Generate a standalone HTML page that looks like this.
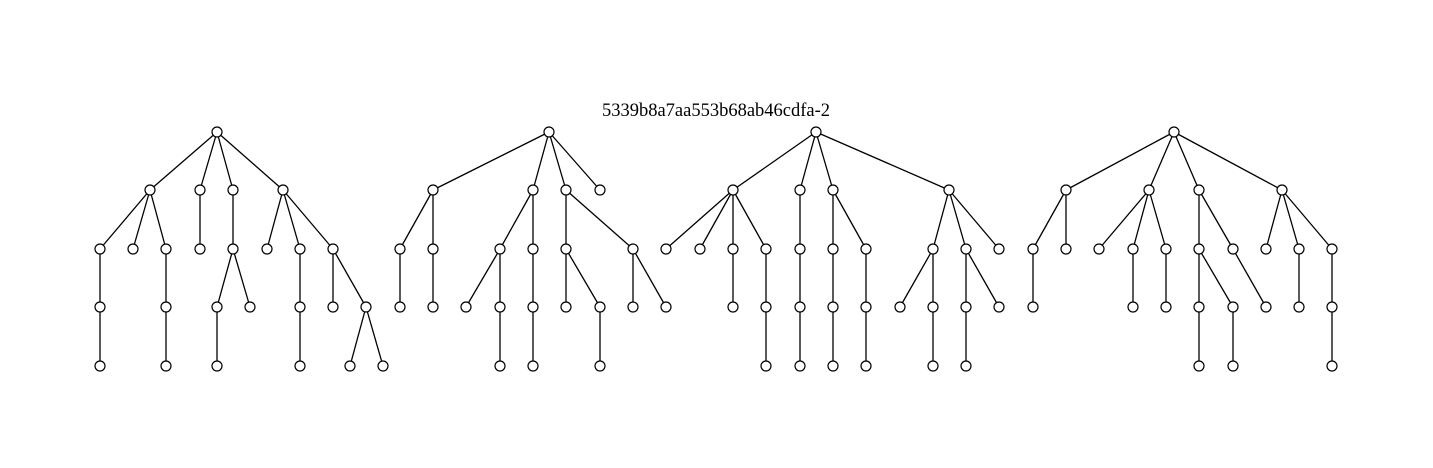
<!DOCTYPE html>
<html><head><meta charset="utf-8"><style>
html,body{margin:0;padding:0;background:#fff;}
svg{display:block}
circle{r:5px}
</style></head><body>
<svg width="1433" height="468" xmlns="http://www.w3.org/2000/svg">
<rect width="1433" height="468" fill="#fff"/>
<text x="716" y="116" text-anchor="middle" font-family="Liberation Serif, serif" font-size="18.5" fill="#000">5339b8a7aa553b68ab46cdfa-2</text>
<g stroke="#000" stroke-width="1.3" fill="none">
<line x1="217" y1="132" x2="150" y2="190"/><line x1="217" y1="132" x2="200" y2="190"/><line x1="217" y1="132" x2="233" y2="190"/><line x1="217" y1="132" x2="283" y2="190"/>
<line x1="150" y1="190" x2="100" y2="249"/><line x1="150" y1="190" x2="133" y2="249"/><line x1="150" y1="190" x2="166" y2="249"/>
<line x1="100" y1="249" x2="100" y2="366"/><line x1="166" y1="249" x2="166" y2="366"/>
<line x1="200" y1="190" x2="200" y2="249"/>
<line x1="233" y1="190" x2="233" y2="249"/><line x1="233" y1="249" x2="217" y2="307"/><line x1="233" y1="249" x2="250" y2="307"/><line x1="217" y1="307" x2="217" y2="366"/>
<line x1="283" y1="190" x2="267" y2="249"/><line x1="283" y1="190" x2="300" y2="249"/><line x1="283" y1="190" x2="333" y2="249"/>
<line x1="300" y1="249" x2="300" y2="366"/><line x1="333" y1="249" x2="333" y2="307"/><line x1="333" y1="249" x2="366" y2="307"/>
<line x1="366" y1="307" x2="350" y2="366"/><line x1="366" y1="307" x2="383" y2="366"/>
<line x1="549" y1="132" x2="433" y2="190"/><line x1="549" y1="132" x2="533" y2="190"/><line x1="549" y1="132" x2="566" y2="190"/><line x1="549" y1="132" x2="600" y2="190"/>
<line x1="433" y1="190" x2="400" y2="249"/><line x1="433" y1="190" x2="433" y2="307"/><line x1="400" y1="249" x2="400" y2="307"/>
<line x1="533" y1="190" x2="500" y2="249"/><line x1="533" y1="190" x2="533" y2="366"/>
<line x1="500" y1="249" x2="466" y2="307"/><line x1="500" y1="249" x2="500" y2="366"/>
<line x1="566" y1="190" x2="566" y2="307"/><line x1="566" y1="190" x2="633" y2="249"/>
<line x1="566" y1="249" x2="600" y2="307"/><line x1="600" y1="307" x2="600" y2="366"/>
<line x1="633" y1="249" x2="633" y2="307"/><line x1="633" y1="249" x2="666" y2="307"/>
<line x1="816" y1="132" x2="733" y2="190"/><line x1="816" y1="132" x2="800" y2="190"/><line x1="816" y1="132" x2="833" y2="190"/><line x1="816" y1="132" x2="949" y2="190"/>
<line x1="733" y1="190" x2="666" y2="249"/><line x1="733" y1="190" x2="700" y2="249"/><line x1="733" y1="190" x2="733" y2="307"/><line x1="733" y1="190" x2="766" y2="249"/>
<line x1="766" y1="249" x2="766" y2="366"/>
<line x1="800" y1="190" x2="800" y2="366"/>
<line x1="833" y1="190" x2="833" y2="366"/><line x1="833" y1="190" x2="866" y2="249"/><line x1="866" y1="249" x2="866" y2="366"/>
<line x1="949" y1="190" x2="933" y2="249"/><line x1="949" y1="190" x2="966" y2="249"/><line x1="949" y1="190" x2="999" y2="249"/>
<line x1="933" y1="249" x2="900" y2="307"/><line x1="933" y1="249" x2="933" y2="366"/>
<line x1="966" y1="249" x2="966" y2="366"/><line x1="966" y1="249" x2="999" y2="307"/>
<line x1="1174" y1="132" x2="1066" y2="190"/><line x1="1174" y1="132" x2="1149" y2="190"/><line x1="1174" y1="132" x2="1199" y2="190"/><line x1="1174" y1="132" x2="1282" y2="190"/>
<line x1="1066" y1="190" x2="1033" y2="249"/><line x1="1066" y1="190" x2="1066" y2="249"/><line x1="1033" y1="249" x2="1033" y2="307"/>
<line x1="1149" y1="190" x2="1099" y2="249"/><line x1="1149" y1="190" x2="1133" y2="249"/><line x1="1149" y1="190" x2="1166" y2="249"/>
<line x1="1133" y1="249" x2="1133" y2="307"/><line x1="1166" y1="249" x2="1166" y2="307"/>
<line x1="1199" y1="190" x2="1199" y2="366"/><line x1="1199" y1="190" x2="1233" y2="249"/>
<line x1="1199" y1="249" x2="1233" y2="307"/><line x1="1233" y1="307" x2="1233" y2="366"/>
<line x1="1233" y1="249" x2="1266" y2="307"/>
<line x1="1282" y1="190" x2="1266" y2="249"/><line x1="1282" y1="190" x2="1299" y2="249"/><line x1="1282" y1="190" x2="1332" y2="249"/>
<line x1="1299" y1="249" x2="1299" y2="307"/><line x1="1332" y1="249" x2="1332" y2="366"/>
</g>
<g stroke="#000" stroke-width="1.2" fill="#fff">
<circle cx="217" cy="132" r="5"/>
<circle cx="150" cy="190" r="5"/><circle cx="200" cy="190" r="5"/><circle cx="233" cy="190" r="5"/><circle cx="283" cy="190" r="5"/>
<circle cx="100" cy="249" r="5"/><circle cx="133" cy="249" r="5"/><circle cx="166" cy="249" r="5"/><circle cx="200" cy="249" r="5"/><circle cx="233" cy="249" r="5"/><circle cx="267" cy="249" r="5"/><circle cx="300" cy="249" r="5"/><circle cx="333" cy="249" r="5"/>
<circle cx="100" cy="307" r="5"/><circle cx="166" cy="307" r="5"/><circle cx="217" cy="307" r="5"/><circle cx="250" cy="307" r="5"/><circle cx="300" cy="307" r="5"/><circle cx="333" cy="307" r="5"/><circle cx="366" cy="307" r="5"/>
<circle cx="100" cy="366" r="5"/><circle cx="166" cy="366" r="5"/><circle cx="217" cy="366" r="5"/><circle cx="300" cy="366" r="5"/><circle cx="350" cy="366" r="5"/><circle cx="383" cy="366" r="5"/>
<circle cx="549" cy="132" r="5"/>
<circle cx="433" cy="190" r="5"/><circle cx="533" cy="190" r="5"/><circle cx="566" cy="190" r="5"/><circle cx="600" cy="190" r="5"/>
<circle cx="400" cy="249" r="5"/><circle cx="433" cy="249" r="5"/><circle cx="500" cy="249" r="5"/><circle cx="533" cy="249" r="5"/><circle cx="566" cy="249" r="5"/><circle cx="633" cy="249" r="5"/>
<circle cx="400" cy="307" r="5"/><circle cx="433" cy="307" r="5"/><circle cx="466" cy="307" r="5"/><circle cx="500" cy="307" r="5"/><circle cx="533" cy="307" r="5"/><circle cx="566" cy="307" r="5"/><circle cx="600" cy="307" r="5"/><circle cx="633" cy="307" r="5"/><circle cx="666" cy="307" r="5"/>
<circle cx="500" cy="366" r="5"/><circle cx="533" cy="366" r="5"/><circle cx="600" cy="366" r="5"/>
<circle cx="816" cy="132" r="5"/>
<circle cx="733" cy="190" r="5"/><circle cx="800" cy="190" r="5"/><circle cx="833" cy="190" r="5"/><circle cx="949" cy="190" r="5"/>
<circle cx="666" cy="249" r="5"/><circle cx="700" cy="249" r="5"/><circle cx="733" cy="249" r="5"/><circle cx="766" cy="249" r="5"/><circle cx="800" cy="249" r="5"/><circle cx="833" cy="249" r="5"/><circle cx="866" cy="249" r="5"/><circle cx="933" cy="249" r="5"/><circle cx="966" cy="249" r="5"/><circle cx="999" cy="249" r="5"/>
<circle cx="733" cy="307" r="5"/><circle cx="766" cy="307" r="5"/><circle cx="800" cy="307" r="5"/><circle cx="833" cy="307" r="5"/><circle cx="866" cy="307" r="5"/><circle cx="900" cy="307" r="5"/><circle cx="933" cy="307" r="5"/><circle cx="966" cy="307" r="5"/><circle cx="999" cy="307" r="5"/>
<circle cx="766" cy="366" r="5"/><circle cx="800" cy="366" r="5"/><circle cx="833" cy="366" r="5"/><circle cx="866" cy="366" r="5"/><circle cx="933" cy="366" r="5"/><circle cx="966" cy="366" r="5"/>
<circle cx="1174" cy="132" r="5"/>
<circle cx="1066" cy="190" r="5"/><circle cx="1149" cy="190" r="5"/><circle cx="1199" cy="190" r="5"/><circle cx="1282" cy="190" r="5"/>
<circle cx="1033" cy="249" r="5"/><circle cx="1066" cy="249" r="5"/><circle cx="1099" cy="249" r="5"/><circle cx="1133" cy="249" r="5"/><circle cx="1166" cy="249" r="5"/><circle cx="1199" cy="249" r="5"/><circle cx="1233" cy="249" r="5"/><circle cx="1266" cy="249" r="5"/><circle cx="1299" cy="249" r="5"/><circle cx="1332" cy="249" r="5"/>
<circle cx="1033" cy="307" r="5"/><circle cx="1133" cy="307" r="5"/><circle cx="1166" cy="307" r="5"/><circle cx="1199" cy="307" r="5"/><circle cx="1233" cy="307" r="5"/><circle cx="1266" cy="307" r="5"/><circle cx="1299" cy="307" r="5"/><circle cx="1332" cy="307" r="5"/>
<circle cx="1199" cy="366" r="5"/><circle cx="1233" cy="366" r="5"/><circle cx="1332" cy="366" r="5"/>
</g>
</svg>
</body></html>
